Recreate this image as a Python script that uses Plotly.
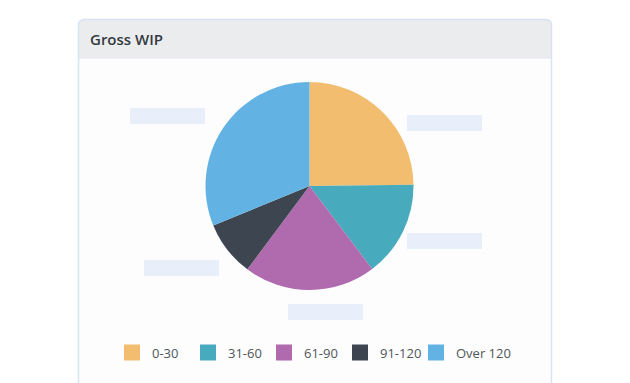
import plotly.graph_objects as go

# ---- data ----
categories = ["0-30", "31-60", "61-90", "91-120", "Over 120"]
values = [24.8, 14.9, 20.5, 8.6, 31.2]
colors = ["#f3bd6f", "#48aabd", "#b06aae", "#3d4650", "#62b3e3"]
title_text = "Gross WIP"

W, H = 630, 383
OFF = 8  # page body margin offset


def fx(px):
    return (px - OFF) / W


def fy(py):
    return 1 - (py - OFF) / H


fig = go.Figure()

cx, cy, r = 309.5, 186, 104
fig.add_trace(go.Pie(
    labels=categories, values=values, sort=False, direction="clockwise",
    rotation=0, textinfo="none", hoverinfo="label+percent",
    marker=dict(colors=colors, line=dict(width=0)),
    domain=dict(x=[fx(cx - r), fx(cx + r)], y=[fy(cy + r), fy(cy - r)]),
    showlegend=False,
))

for i, (name, col) in enumerate(zip(categories, colors)):
    fig.add_trace(go.Scatter(
        x=[None], y=[None], mode="markers", name=name,
        marker=dict(symbol="square", size=16, color=col),
        showlegend=True,
        legendwidth=70 if i == len(categories) - 1 else 31,
    ))

# ---- card decoration ----
x0, x1 = 78.5, 551.5
ytop, yhead, ybot = 19.5, 58, 420
rad = 6


def top_rounded(y_end):
    return (f"M {fx(x0)},{fy(y_end)} L {fx(x0)},{fy(ytop + rad)} "
            f"Q {fx(x0)},{fy(ytop)} {fx(x0 + rad)},{fy(ytop)} "
            f"L {fx(x1 - rad)},{fy(ytop)} "
            f"Q {fx(x1)},{fy(ytop)} {fx(x1)},{fy(ytop + rad)} "
            f"L {fx(x1)},{fy(y_end)}")


shapes = [
    dict(type="path", xref="paper", yref="paper", path=top_rounded(ybot) + " Z",
         fillcolor="#fdfdfe", line=dict(width=0), layer="below"),
    dict(type="path", xref="paper", yref="paper", path=top_rounded(yhead) + " Z",
         fillcolor="#ebecee", line=dict(width=0), layer="below"),
    dict(type="line", xref="paper", yref="paper", x0=fx(x0), x1=fx(x1),
         y0=fy(yhead), y1=fy(yhead), line=dict(color="#e3e6ea", width=1), layer="below"),
    dict(type="path", xref="paper", yref="paper", path=top_rounded(ybot),
         fillcolor="rgba(0,0,0,0)", line=dict(color="#d5e3f4", width=1.5), layer="below"),
]

placeholders = [(130, 108), (144, 260), (407, 115), (407, 233), (288, 304)]
for px, py in placeholders:
    shapes.append(dict(type="rect", xref="paper", yref="paper",
                       x0=fx(px), x1=fx(px + 75), y0=fy(py + 16), y1=fy(py),
                       fillcolor="#e8effb", line=dict(width=0), layer="below"))

fig.update_layout(
    width=W, height=H,
    margin=dict(l=0, r=0, t=0, b=0),
    paper_bgcolor="white", plot_bgcolor="rgba(0,0,0,0)",
    font=dict(family="Open Sans", color="#555b61"),
    title=dict(text=title_text, x=fx(90), xref="paper", xanchor="left",
               y=fy(40), yref="paper", yanchor="middle",
               font=dict(size=15, color="#343a40", family="Open Sans", weight=600)),
    xaxis=dict(visible=False), yaxis=dict(visible=False),
    showlegend=True,
    legend=dict(orientation="h", x=fx(112), xanchor="left",
                y=fy(352.5), yanchor="middle",
                entrywidthmode="pixels",
                font=dict(size=13, color="#4f555b", family="Open Sans"),
                bgcolor="rgba(0,0,0,0)", itemclick=False, itemdoubleclick=False),
    shapes=shapes,
)

fig.write_html("out.html")
